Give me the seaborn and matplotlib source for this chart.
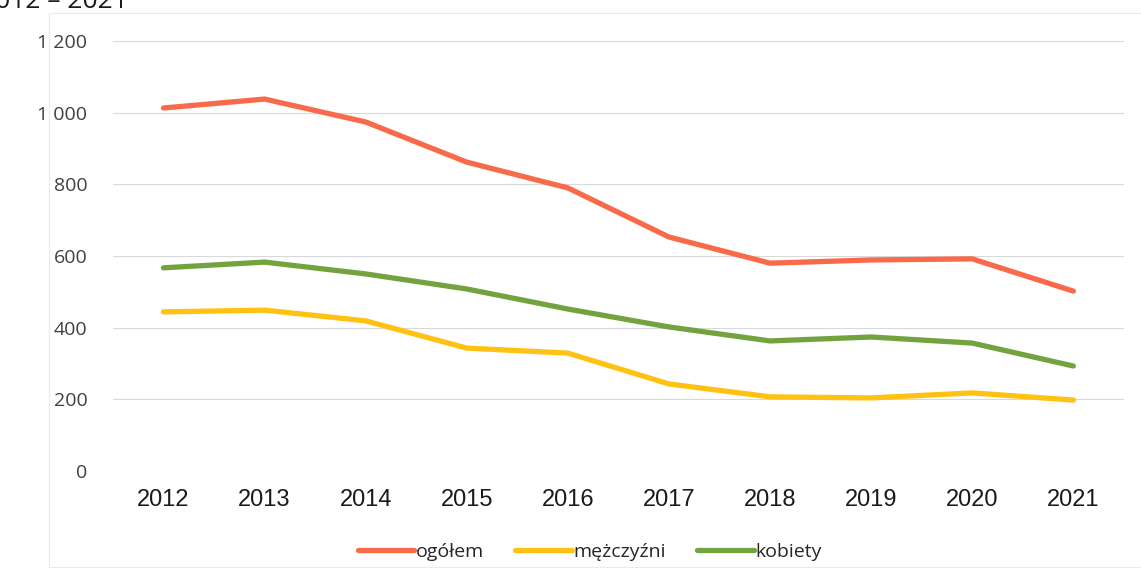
import pandas as pd
import matplotlib.pyplot as plt
import seaborn as sns
from matplotlib.ticker import FuncFormatter

# Data
years = [2012, 2013, 2014, 2015, 2016, 2017, 2018, 2019, 2020, 2021]
ogolem = [1013, 1038, 974, 862, 790, 653, 580, 589, 592, 502]
mezczyzni = [444, 449, 419, 343, 329, 243, 207, 204, 218, 198]
kobiety = [567, 583, 550, 508, 452, 402, 363, 374, 357, 293]

series_names = ['ogółem', 'mężczyźni', 'kobiety']
colors = ['#F96A4B', '#FFC212', '#73A33F']

df = pd.DataFrame({'rok': years, 'ogółem': ogolem, 'mężczyźni': mezczyzni, 'kobiety': kobiety})
long_df = df.melt(id_vars='rok', var_name='seria', value_name='wartosc')
long_df['pos'] = long_df['rok'].map({y: i for i, y in enumerate(years)})

sns.set_style('white')
plt.rcParams['font.family'] = ['Open Sans', 'DejaVu Sans']

fig = plt.figure(figsize=(11.41, 5.79), dpi=100)
ax = fig.add_axes([0.099, 0.1865, 0.886, 0.7427])

sns.lineplot(data=long_df, x='pos', y='wartosc', hue='seria', hue_order=series_names,
             palette=colors, linewidth=3.8, ax=ax, legend=False,
             solid_capstyle='round')

ax.set_xlim(-0.5, len(years) - 0.5)
ax.set_ylim(0, 1200)
ax.set_yticks(range(0, 1201, 200))
ax.yaxis.set_major_formatter(FuncFormatter(lambda v, _: f'{int(v):,}'.replace(',', ' ')))
ax.set_xticks(range(len(years)))
ax.set_xticklabels([str(y) for y in years], family=['Liberation Sans', 'DejaVu Sans'])
ax.grid(axis='y', color='#D9D9D9', linewidth=0.8)
ax.set_axisbelow(True)
for s in ax.spines.values():
    s.set_visible(False)
ax.tick_params(axis='y', labelsize=14, labelcolor='#404040', length=0, pad=18.5)
ax.tick_params(axis='x', labelsize=17, labelcolor='#1a1a1a', length=0, pad=13)
ax.set_xlabel('')
ax.set_ylabel('')

# legend
handles = [plt.Line2D([], [], color=c, linewidth=3.8) for c in colors]
fig.legend(handles, series_names, loc='center', bbox_to_anchor=(0.517, 0.047), ncol=3,
           frameon=False, fontsize=14, handlelength=2.9, handletextpad=0.1, columnspacing=1.6)

# cut-off title from the source page and chart frame
fig.text(-0.0175, 0.986, '2012 – 2021', fontsize=19, color='#1a1a1a', va='baseline', ha='left')
frame = plt.Rectangle((0.043, 0.02), 0.99, 0.958, transform=fig.transFigure,
                      fill=False, edgecolor='#EBEBEB', linewidth=0.8)
fig.add_artist(frame)

fig.savefig('out.png', dpi=100)
